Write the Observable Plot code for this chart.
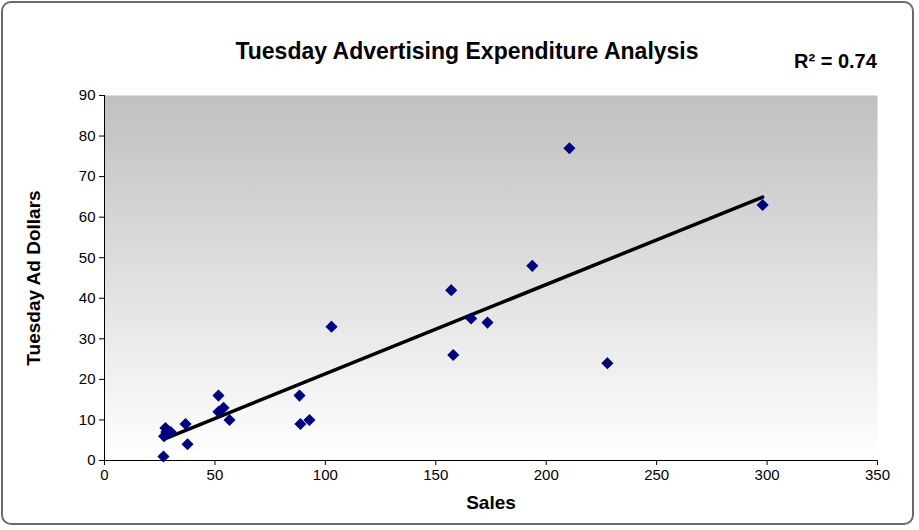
<!DOCTYPE html><html><head><meta charset="utf-8">
<script src="https://cdn.jsdelivr.net/npm/d3@7"></script>
<script src="https://cdn.jsdelivr.net/npm/@observablehq/plot@0.6"></script>
<style>
body{margin:0;background:#fff;font-family:"Liberation Sans",Arial,sans-serif}
#wrap{position:relative;width:919px;height:530px}
#border{position:absolute;left:1px;top:1px;width:913px;height:524px;border:2px solid #6a6a6a;border-radius:10px;box-sizing:border-box;pointer-events:none}
#title{position:absolute;left:0;width:934px;top:38px;text-align:center;font-weight:bold;font-size:23px;color:#000}
#r2{position:absolute;left:794px;top:50px;font-weight:bold;font-size:20px}
</style></head><body>
<div id="wrap"><div id="chart"></div><div id="title">Tuesday Advertising Expenditure Analysis</div><div id="r2"></div><div id="border"></div></div>
<script>
const sales = [26.7,27.6,28,30,27,36.7,37.6,51.6,51.6,53.9,56.6,88.3,88.7,92.8,102.8,157,157.9,166,173.4,193.7,210.5,227.7,298];
const adDollars = [1,8,7,7,6,9,4,16,12,13,10,16,9,10,33,42,26,35,34,48,77,24,63];
const xTicks = [0,50,100,150,200,250,300,350];
const yTicks = [0,10,20,30,40,50,60,70,80,90];
const data = sales.map((s,i)=>({x:s,y:adDollars[i]}));
const mx=d3.mean(sales), my=d3.mean(adDollars);
let sxy=0,sxx=0;data.forEach(d=>{sxy+=(d.x-mx)*(d.y-my);sxx+=(d.x-mx)**2});
const b=sxy/sxx,a=my-b*mx;
document.getElementById("r2").textContent="R² = 0.74";
const xmin=d3.min(sales),xmax=d3.max(sales);
const line=[{x:xmin,y:a+b*xmin},{x:xmax,y:a+b*xmax}];
const plot = Plot.plot({
  width:919,height:530,marginLeft:104,marginRight:42,marginTop:95,marginBottom:70,
  style:{fontFamily:"Liberation Sans, Arial, sans-serif",fontSize:"15px",color:"#000",background:"transparent"},
  x:{domain:[0,350],ticks:xTicks,tickSize:5,label:"Sales",labelArrow:"none",labelAnchor:"center",labelOffset:48},
  y:{domain:[0,90],ticks:yTicks,tickSize:5,label:"Tuesday Ad Dollars",labelArrow:"none",labelAnchor:"center",labelOffset:78},
  marks:[
    Plot.frame({fill:"url(#bg)",stroke:null}),
    Plot.ruleX([0],{stroke:"#000"}),
    Plot.ruleY([0],{stroke:"#000"}),
    Plot.line(line,{x:"x",y:"y",stroke:"#000",strokeWidth:3.5}),
    Plot.dot(data,{x:"x",y:"y",symbol:"diamond2",fill:"#000080",stroke:"#000080",r:4.5})
  ]
});
const defs=d3.select(plot).insert("defs",":first-child");
const g=defs.append("linearGradient").attr("id","bg").attr("x1",0).attr("y1",0).attr("x2",0).attr("y2",1);
g.append("stop").attr("offset","0%").attr("stop-color","#c0c0c0");
g.append("stop").attr("offset","100%").attr("stop-color","#ffffff");
d3.select(plot).selectAll("[aria-label='x-axis label'] text, [aria-label='y-axis label'] text").style("font-weight","bold").style("font-size","19px");
document.getElementById("chart").appendChild(plot);
</script></body></html>
